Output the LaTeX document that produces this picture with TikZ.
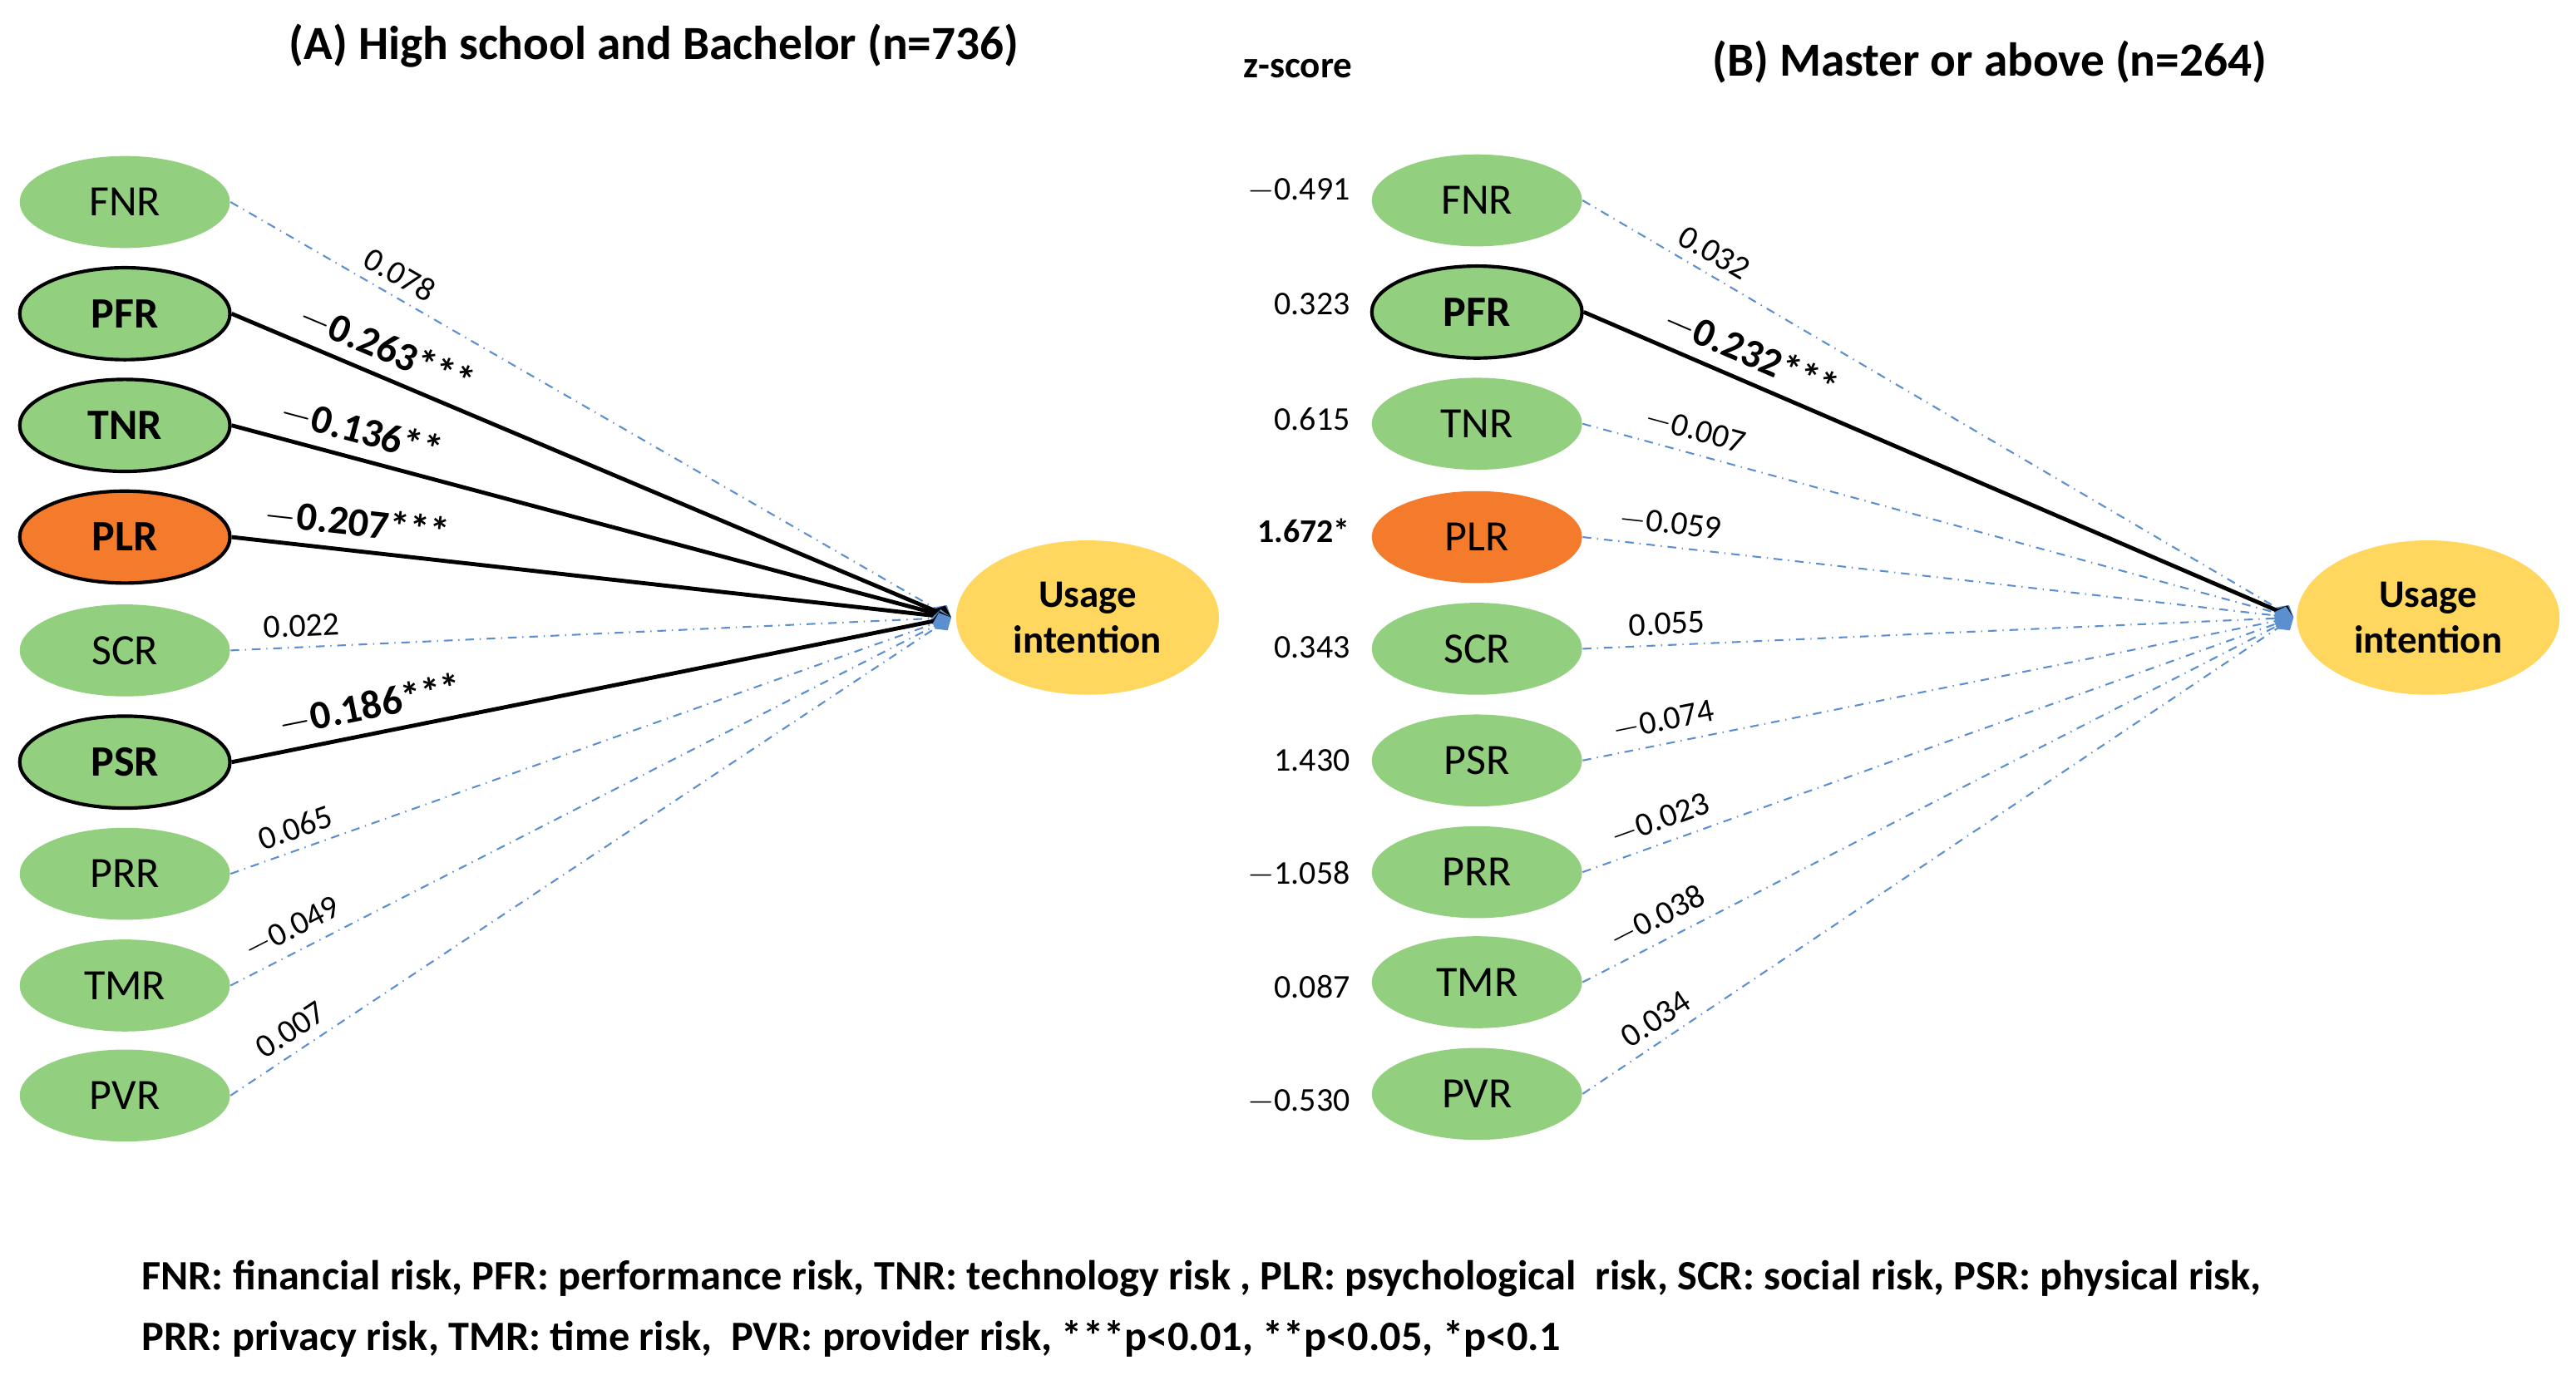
\documentclass[tikz,border=0pt]{standalone}
\usepackage{fontspec}
\setmainfont{Carlito}
\usetikzlibrary{arrows.meta,shapes.geometric}
\definecolor{riskgreen}{HTML}{92D080}
\definecolor{riskorange}{HTML}{F47B2C}
\definecolor{usegold}{HTML}{FFD75E}
\definecolor{pathblue}{HTML}{5B8FD0}
\tikzset{
  risk/.style={ellipse, fill=riskgreen, minimum width=2.56cm, minimum height=1.12cm, font=\fontsize{15}{17}\selectfont},
  sig/.style={draw=black, line width=1.2pt, font=\fontsize{15}{17}\selectfont\bfseries},
  goal/.style={ellipse, fill=usegold, minimum width=3.2cm, minimum height=1.88cm, align=center, font=\fontsize{13.5}{16}\selectfont\bfseries},
  weak/.style={pathblue, dash dot, line width=0.6pt, -{Diamond[length=7pt,width=6pt,fill=pathblue]}},
  strong/.style={black, line width=1.4pt, -{Diamond[length=7pt,width=6pt,fill=pathblue]}},
  coef/.style={sloped, above, text=black, font=\fontsize{11.5}{13}\selectfont},
  bcoef/.style={sloped, above, text=black, font=\fontsize{14}{16}\selectfont\bfseries},
  zval/.style={anchor=east, font=\fontsize{11.5}{13}\selectfont}
}
\begin{document}
\begin{tikzpicture}[x=0.02cm, y=-0.02cm]
\useasboundingbox (0,0) rectangle (1568,837);

% titles
\node[font=\fontsize{16.5}{19}\selectfont\bfseries] (titleA) at (398,28) {(A) High school and Bachelor (n=736)};
\node[font=\fontsize{16.5}{19}\selectfont\bfseries] (titleB) at (1211,38) {(B) Master or above (n=264)};
\node[font=\fontsize{13}{15}\selectfont\bfseries] (zhead) at (790,42) {z-score};

% goals
\node[goal] (UA) at (662,376) {Usage\\intention};
\node[goal] (UB) at (1478,376) {Usage\\intention};
\coordinate (tipA) at (579,376);
\coordinate (tipB) at (1396,376);

% panel A
\node[risk] (A1) at (76,123) {FNR};
\node[risk,sig] (A2) at (76,191) {PFR};
\node[risk,sig] (A3) at (76,259) {TNR};
\node[risk,sig,fill=riskorange] (A4) at (76,327) {PLR};
\node[risk] (A5) at (76,396) {SCR};
\node[risk,sig] (A6) at (76,464) {PSR};
\node[risk] (A7) at (76,532) {PRR};
\node[risk] (A8) at (76,600) {TMR};
\node[risk] (A9) at (76,667) {PVR};

\draw[weak] (A1.east) -- node[coef,pos=0.22] {0.078} (tipA);
\draw[strong] (A2.east) -- node[bcoef,pos=0.2] {$-$0.263***} (tipA);
\draw[strong] (A3.east) -- node[bcoef,pos=0.17] {$-$0.136**} (tipA);
\draw[strong] (A4.east) -- node[bcoef,pos=0.17] {$-$0.207***} (tipA);
\draw[weak] (A5.east) -- node[coef,pos=0.1] {0.022} (tipA);
\draw[strong] (A6.east) -- node[bcoef,pos=0.2] {$-$0.186***} (tipA);
\draw[weak] (A7.east) -- node[coef,pos=0.1] {0.065} (tipA);
\draw[weak] (A8.east) -- node[coef,pos=0.1] {$-$0.049} (tipA);
\draw[weak] (A9.east) -- node[coef,pos=0.1] {0.007} (tipA);

% panel B
\node[risk] (B1) at (899,122) {FNR};
\node[risk,sig] (B2) at (899,190) {PFR};
\node[risk] (B3) at (899,258) {TNR};
\node[risk,fill=riskorange] (B4) at (899,327) {PLR};
\node[risk] (B5) at (899,395) {SCR};
\node[risk] (B6) at (899,463) {PSR};
\node[risk] (B7) at (899,531) {PRR};
\node[risk] (B8) at (899,598) {TMR};
\node[risk] (B9) at (899,666) {PVR};

\draw[weak] (B1.east) -- node[coef,pos=0.17] {0.032} (tipB);
\draw[strong] (B2.east) -- node[bcoef,pos=0.22] {$-$0.232***} (tipB);
\draw[weak] (B3.east) -- node[coef,pos=0.15] {$-$0.007} (tipB);
\draw[weak] (B4.east) -- node[coef,pos=0.12] {$-$0.059} (tipB);
\draw[weak] (B5.east) -- node[coef,pos=0.12] {0.055} (tipB);
\draw[weak] (B6.east) -- node[coef,pos=0.12] {$-$0.074} (tipB);
\draw[weak] (B7.east) -- node[coef,pos=0.12] {$-$0.023} (tipB);
\draw[weak] (B8.east) -- node[coef,pos=0.12] {$-$0.038} (tipB);
\draw[weak] (B9.east) -- node[coef,pos=0.12] {0.034} (tipB);

% z-scores
\node[zval] (z1) at (828,116) {$-$0.491};
\node[zval] (z2) at (828,185) {0.323};
\node[zval] (z3) at (828,255) {0.615};
\node[zval,font=\fontsize{11.5}{13}\selectfont\bfseries] (z4) at (828,323) {1.672*};
\node[zval] (z5) at (828,394) {0.343};
\node[zval] (z6) at (828,463) {1.430};
\node[zval] (z7) at (828,532) {$-$1.058};
\node[zval] (z8) at (828,601) {0.087};
\node[zval] (z9) at (828,671) {$-$0.530};

% footnote
\node[anchor=west, align=left, font=\fontsize{14.5}{21}\selectfont\bfseries] (note) at (80,797)
{FNR: financial risk, PFR: performance risk, TNR: technology risk , PLR: psychological\ \ risk, SCR: social risk, PSR: physical risk,\\
PRR: privacy risk, TMR: time risk,\ \ PVR: provider risk, ***p<0.01, **p<0.05, *p<0.1};
\end{tikzpicture}
\end{document}
